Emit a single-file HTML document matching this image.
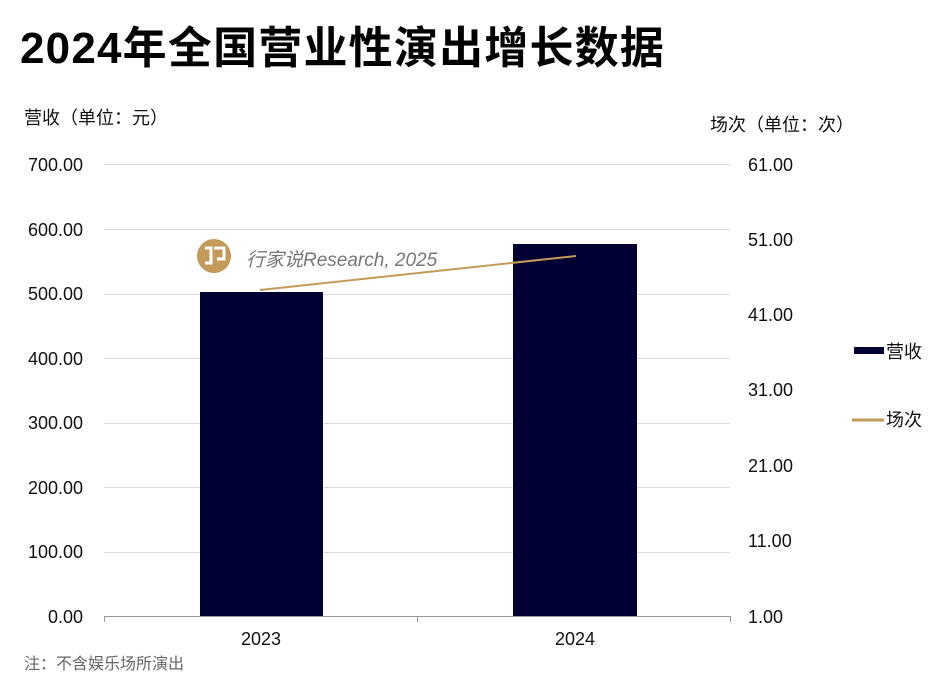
<!DOCTYPE html>
<html><head><meta charset="utf-8"><style>
body{margin:0;width:948px;height:678px;background:#fff;overflow:hidden;position:relative;font-family:"Liberation Sans","Noto Sans CJK SC",sans-serif;color:#111}
.t{position:absolute;white-space:nowrap}
</style></head><body>
<div class="t" style="left:20px;top:12px;font-size:44px;font-weight:bold;color:#000;letter-spacing:1.2px">2024年全国营业性演出增长数据</div>
<div class="t" style="left:24px;top:104px;font-size:18px">营收（单位：元）</div>
<div class="t" style="left:710px;top:111px;font-size:18px">场次（单位：次）</div>
<div class="t" style="left:24px;top:650px;font-size:16px;color:#666">注：不含娱乐场所演出</div>
<svg width="948" height="678" style="position:absolute;left:0;top:0" font-family="Liberation Sans, Noto Sans CJK SC, sans-serif">
<g stroke="#d9d9d9" stroke-width="1">
<line x1="104" x2="730" y1="164.5" y2="164.5"/><line x1="104" x2="730" y1="229.5" y2="229.5"/>
<line x1="104" x2="730" y1="294.5" y2="294.5"/><line x1="104" x2="730" y1="358.5" y2="358.5"/>
<line x1="104" x2="730" y1="423.5" y2="423.5"/><line x1="104" x2="730" y1="487.5" y2="487.5"/>
<line x1="104" x2="730" y1="552.5" y2="552.5"/>
</g>
<line x1="104" x2="730" y1="616.5" y2="616.5" stroke="#999"/>
<line x1="104.5" x2="104.5" y1="616" y2="622" stroke="#999"/>
<line x1="417.5" x2="417.5" y1="616" y2="622" stroke="#999"/>
<line x1="730.5" x2="730.5" y1="616" y2="622" stroke="#999"/>
<rect x="200" y="292" width="123" height="324" fill="#000033"/>
<rect x="513" y="244" width="124" height="372" fill="#000033"/>
<circle cx="214" cy="256" r="17" fill="#c29a5a"/>
<path d="M205 248h6v15h-6M214 248h10v11h-7" stroke="#fff" stroke-width="3" fill="none"/>
<text x="246" y="266" font-size="19" font-style="italic" fill="#777">行家说Research, 2025</text>
<line x1="260" y1="290" x2="576" y2="256" stroke="#c29a5a" stroke-width="2"/>
<g font-size="18" fill="#111" text-anchor="end">
<text x="83" y="171">700.00</text><text x="83" y="236">600.00</text><text x="83" y="300">500.00</text>
<text x="83" y="365">400.00</text><text x="83" y="429">300.00</text><text x="83" y="494">200.00</text>
<text x="83" y="558">100.00</text><text x="83" y="623">0.00</text>
</g>
<g font-size="18" fill="#111">
<text x="748" y="171">61.00</text><text x="748" y="246">51.00</text><text x="748" y="321">41.00</text>
<text x="748" y="396">31.00</text><text x="748" y="472">21.00</text><text x="748" y="547">11.00</text>
<text x="748" y="623">1.00</text>
</g>
<g font-size="18" fill="#111" text-anchor="middle">
<text x="261" y="645">2023</text><text x="575" y="645">2024</text>
</g>
<rect x="854" y="347" width="30" height="7" fill="#000033"/>
<text x="886" y="358" font-size="18" fill="#111">营收</text>
<line x1="852" x2="884" y1="420" y2="420" stroke="#c29a5a" stroke-width="3"/>
<text x="886" y="426" font-size="18" fill="#111">场次</text>
</svg>
</body></html>
